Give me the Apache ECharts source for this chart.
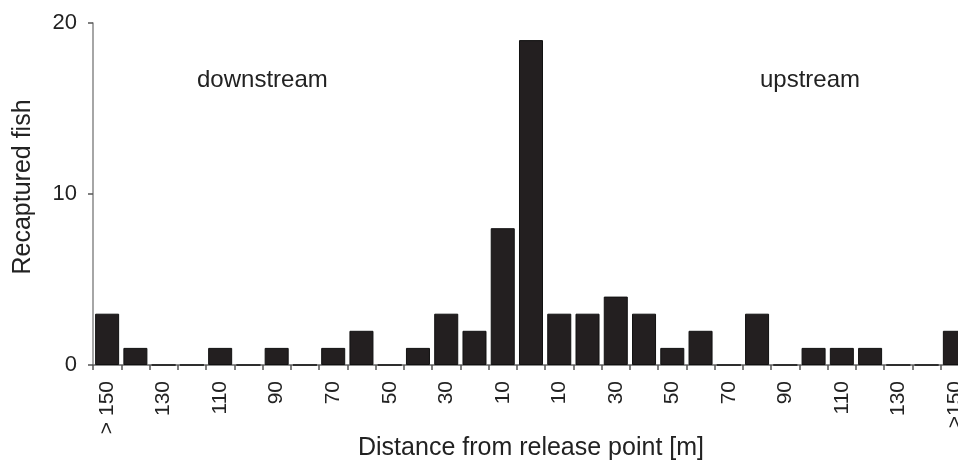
<!DOCTYPE html>
<html>
<head>
<meta charset="utf-8">
<script src="https://cdn.jsdelivr.net/npm/echarts@6/dist/echarts.min.js"></script>
<style>html,body{margin:0;padding:0;background:#fff}#c{width:958px;height:462px}</style>
</head>
<body>
<div id="c"></div>
<script>
const categories = ["> 150","140","130","120","110","100","90","80","70","60","50","40","30","20","10","0","10","20","30","40","50","60","70","80","90","100","110","120","130","140",">150"];
const recaptured = [3,1,0,0,1,0,1,0,1,2,0,1,3,2,8,19,3,3,4,3,1,2,0,3,0,1,1,1,0,0,2];
const yTicks = [0,10,20];
const xTitle = "Distance from release point [m]";
const yTitle = "Recaptured fish";
const notes = ["downstream","upstream"];

const chart = echarts.init(document.getElementById('c'), null, {renderer:'canvas'});
const font = 'Liberation Sans, Arial, sans-serif';
chart.setOption({
  animation:false,
  backgroundColor:'#fff',
  grid:{left:93,top:23,bottom:97,right:-11,containLabel:false,outerBoundsMode:'none'},
  xAxis:{
    type:'category', data:categories,
    axisLine:{lineStyle:{color:'#666',width:1.5}},
    axisTick:{show:true,length:5,interval:0,lineStyle:{color:'#555',width:1.5}},
    axisLabel:{interval:1,rotate:90,margin:16,fontSize:21,color:'#222',fontFamily:font},
    name:xTitle, nameLocation:'middle', nameGap:71, nameMoveOverlap:false,
    nameTextStyle:{fontSize:25,color:'#222',fontFamily:font}
  },
  yAxis:{
    type:'value', min:yTicks[0], max:yTicks[yTicks.length-1], interval:10,
    axisLine:{show:true,lineStyle:{color:'#888',width:1.5}},
    axisTick:{show:true,length:5,lineStyle:{color:'#555',width:1.5}},
    splitLine:{show:false},
    axisLabel:{margin:16,fontSize:22,color:'#222',fontFamily:font},
    name:yTitle, nameLocation:'middle', nameGap:57, nameMoveOverlap:false,
    nameTextStyle:{fontSize:25,color:'#222',fontFamily:font,padding:[0,0,0,14]}
  },
  graphic:[
    {type:'text',left:197,top:68,style:{text:notes[0],fontSize:24,fill:'#222',fontFamily:font}},
    {type:'text',left:760,top:68,style:{text:notes[1],fontSize:24,fill:'#222',fontFamily:font}}
  ],
  series:[{
    type:'bar', data:recaptured, barCategoryGap:'15%',
    itemStyle:{color:'#231f20',borderColor:'#111',borderWidth:1}
  }]
});
</script>
</body>
</html>
